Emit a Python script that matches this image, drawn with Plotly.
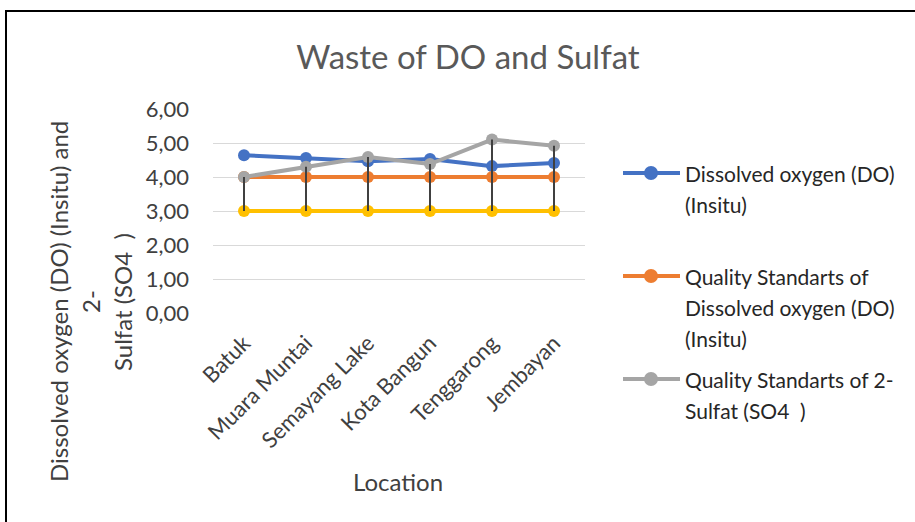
import plotly.graph_objects as go

locations = ["Batuk", "Muara Muntai", "Semayang Lake", "Kota Bangun", "Tenggarong", "Jembayan"]
do_insitu = [4.64, 4.56, 4.46, 4.53, 4.32, 4.41]
qs_do = [4.00, 4.00, 4.00, 4.00, 4.00, 4.00]
qs_sulfat = [4.00, 4.30, 4.59, 4.38, 5.10, 4.92]
qs_yellow = [3.00, 3.00, 3.00, 3.00, 3.00, 3.00]
y_ticks = [0, 1, 2, 3, 4, 5, 6]
y_ticktext = ["0,00", "1,00", "2,00", "3,00", "4,00", "5,00", "6,00"]

legend_lines = [
    ["Dissolved oxygen (DO)", "(Insitu)"],
    ["Quality Standarts of", "Dissolved oxygen (DO)", "(Insitu)"],
    ["Quality Standarts of 2-", "Sulfat (SO4  )"],
]
series_names = [
    "Dissolved oxygen (DO) (Insitu)",
    "Quality Standarts of Dissolved oxygen (DO) (Insitu)",
    "Quality Standarts of 2- Sulfat (SO4  )",
    "Quality Standarts",
]
colors = ["#4472C4", "#ED7D31", "#A5A5A5", "#FFC000"]

FONT = "Lato, 'Open Sans', sans-serif"

# plot area in page pixels
PL, PR, PT, PB = 213, 585, 109, 313
W, H = 915, 522


def px(x):
    return (x - PL) / (PR - PL)


def py(y):
    return (PB - y) / (PB - PT)


fig = go.Figure()
for vals, col, nm in zip([do_insitu, qs_do, qs_sulfat, qs_yellow], colors, series_names):
    fig.add_trace(go.Scatter(
        x=locations, y=vals, name=nm, mode="lines+markers",
        line=dict(color=col, width=4),
        marker=dict(color=col, size=12),
        showlegend=False,
    ))

# high-low style drop lines between sulfat standard and lower standard
dx, dy = [], []
for loc, hi, lo in zip(locations, qs_sulfat, qs_yellow):
    dx += [loc, loc, None]
    dy += [hi, lo, None]
fig.add_trace(go.Scatter(x=dx, y=dy, mode="lines", line=dict(color="#404040", width=2),
                         showlegend=False, hoverinfo="skip"))

fig.update_layout(
    width=W, height=H,
    margin=dict(l=PL, r=W - PR, t=PT, b=H - PB, autoexpand=False),
    paper_bgcolor="white", plot_bgcolor="white",
    font=dict(family=FONT, color="#404040"),
    title=dict(text="Waste of DO and Sulfat", x=468 / W, xref="container", xanchor="center",
               y=1 - 57 / H, yref="container", yanchor="middle",
               font=dict(size=33, color="#595959", family=FONT)),
    showlegend=False,
)
fig.update_xaxes(range=[-0.5, 5.5], showgrid=False, showline=False, ticks="",
                 tickangle=-45, tickfont=dict(size=22, color="#404040"),
                 ticklabelstandoff=12, zeroline=False)
fig.update_yaxes(range=[0, 6], tickvals=y_ticks, ticktext=y_ticktext,
                 showgrid=True, gridcolor="#D9D9D9", gridwidth=1, zeroline=False,
                 showline=False, ticks="", ticklabelstandoff=23,
                 tickfont=dict(size=22, color="#404040"))

# y axis title (three lines)
ytitle_lines = ["Dissolved oxygen (DO) (Insitu) and", "2-", "Sulfat (SO4  )"]
ytitle_x = [58, 90, 122]
for txt, xx in zip(ytitle_lines, ytitle_x):
    fig.add_annotation(text=txt, xref="paper", yref="paper",
                       x=px(xx), y=py(302),
                       xanchor="center", yanchor="middle", textangle=-90, showarrow=False,
                       font=dict(size=24, color="#404040", family=FONT))

fig.add_annotation(text="Location", xref="paper", yref="paper",
                   x=px(398), y=py(481), xanchor="center", yanchor="middle",
                   showarrow=False, font=dict(size=24, color="#404040", family=FONT))

# custom legend (Excel-like spacing)
entry_y = [173, 276, 379]
line_gap = 31
for lines, col, ey in zip(legend_lines, colors, entry_y):
    fig.add_shape(type="line", xref="paper", yref="paper",
                  x0=px(623), x1=px(680), y0=py(ey), y1=py(ey),
                  line=dict(color=col, width=4))
    r = 7
    fig.add_shape(type="circle", xref="paper", yref="paper",
                  x0=px(651 - r), x1=px(651 + r), y0=py(ey + r), y1=py(ey - r),
                  line=dict(color=col, width=0), fillcolor=col)
    for i, t in enumerate(lines):
        fig.add_annotation(text=t, xref="paper", yref="paper",
                           x=px(683), y=py(ey + i * line_gap), xanchor="left", yanchor="middle",
                           showarrow=False, font=dict(size=21, color="#262626", family=FONT))

# outer chart border
fig.add_shape(type="rect", xref="paper", yref="paper",
              x0=px(6), x1=px(940), y0=py(560), y1=py(11),
              line=dict(color="black", width=2), fillcolor="rgba(0,0,0,0)", layer="below")

fig.write_html("out.html", config={"displayModeBar": False},
               post_script="document.body.style.margin='0';")
